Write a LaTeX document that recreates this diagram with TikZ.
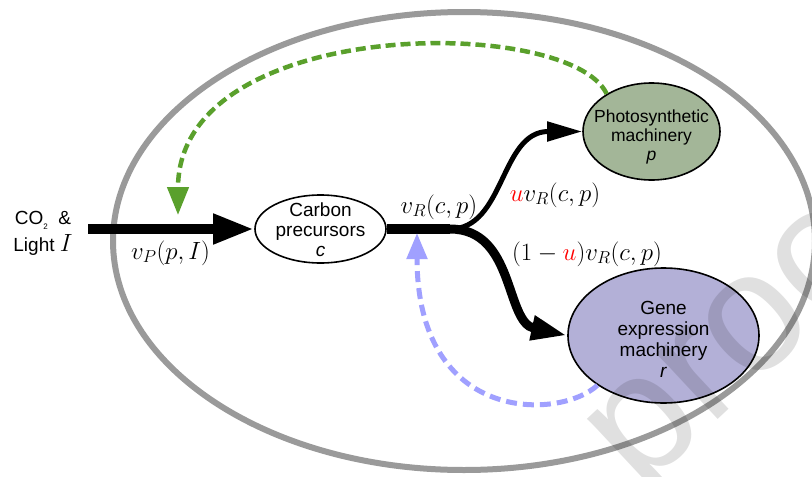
\documentclass[tikz,border=0pt]{standalone}
\usepackage{fontspec}
\setmainfont{Liberation Sans}
\usetikzlibrary{arrows.meta,shapes.geometric}
\definecolor{membrane}{HTML}{9A9A9A}
\definecolor{photofill}{HTML}{A3B698}
\definecolor{genefill}{HTML}{B3B0D7}
\definecolor{feedgreen}{HTML}{5AA02C}
\definecolor{feedblue}{HTML}{A0A0FF}
\begin{document}
\begin{tikzpicture}[x=1pt,y=-1pt,
  pool/.style={ellipse, draw=black, line width=1.6pt, inner sep=0pt},
  poollabel/.style={align=center, inner sep=0pt},
  feedback/.style={line width=4.5pt, dash pattern=on 10pt off 5pt},
  rate/.style={font=\fontsize{25}{27}\selectfont, inner sep=0pt, anchor=base},
  ]
\useasboundingbox (0,0) rectangle (812,477);
\fill[white] (0,0) rectangle (812,477);

% cell boundary
\node[ellipse, draw=membrane, line width=6pt, minimum width=702pt, minimum height=458pt] (cell) at (464,241) {};

% pools (outline and fill)
\node[pool, fill=white, minimum width=131pt, minimum height=68pt] (c) at (320.5,229) {};
\node[pool, fill=photofill, minimum width=137pt, minimum height=97pt] (p) at (651.5,131.5) {};
\node[pool, fill=genefill, minimum width=191pt, minimum height=135pt] (r) at (663.5,335.5) {};

% pool names
\node[poollabel, font=\fontsize{19}{20}\selectfont] (ctext) at (320.5,230) {Carbon\\precursors\\\textit{c}};
\node[poollabel, font=\fontsize{17.5}{19}\selectfont] (ptext) at (651.5,136.5) {Photosynthetic\\machinery\\\textit{p}};
\node[poollabel, font=\fontsize{19}{21}\selectfont] (rtext) at (663.5,339.5) {Gene\\expression\\machinery\\\textit{r}};

% external input
\node[font=\fontsize{19}{27}\selectfont, align=center, inner sep=0pt] (input) at (43,233.5)
  {CO\raisebox{-0.45ex}{\fontsize{8}{8}\selectfont 2}\ \ \&\\Light {\fontsize{25}{25}\selectfont$I$}};
\coordinate (src) at (88,229);
\coordinate (split) at (450,229);

% fluxes
\draw[line width=10pt, -{Triangle[length=41pt,width=28pt]}] (src) -- (c.west);
\draw[line width=10pt] (c.east) -- (split);
\draw[line width=5pt, line cap=round, -{Triangle[length=35pt,width=19pt]}]
  (split) .. controls (505,229) and (500,131.5) .. (p.west);
\draw[line width=9pt, line cap=round, -{Triangle[length=36pt,width=23pt]}]
  (split) .. controls (515,229) and (505,322) .. (r.west);

% feedback loops
\coordinate (greentip) at (178,215);
\coordinate (bluetip) at (417,233);
\draw[feedback, draw=feedgreen, -{Triangle[length=28pt,width=21pt]}]
  (p.140) .. controls (570,15) and (178,15) .. (greentip);
\draw[feedback, line width=5pt, draw=feedblue, dash pattern=on 11pt off 6pt, -{Triangle[length=26pt,width=20pt]}]
  (r.217) .. controls (560,420) and (417,425) .. (bluetip);

% rate labels
\node[rate] (vp) at (170.5,259) {$v_P(p,I)$};
\node[rate] (vr) at (439,213) {$v_R(c,p)$};
\node[rate] (up) at (555,201) {${\color{red}u}v_R(c,p)$};
\node[rate] (down) at (587,260) {$(1-{\color{red}u})v_R(c,p)$};

% watermark
\node[rotate=43, text=black, text opacity=0.12, inner sep=0pt,
      font=\fontsize{170}{170}\selectfont] (stamp) at (752,328) {proof};
\end{tikzpicture}
\end{document}
